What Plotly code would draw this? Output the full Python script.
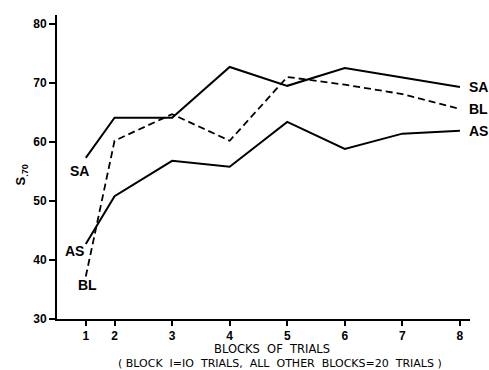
import plotly.graph_objects as go

blocks = [1, 2, 3, 4, 5, 6, 7, 8]
block_pos = [10, 20, 40, 60, 80, 100, 120, 140]  # x positions in trials (block 1 = 10 trials, others 20)
tick_labels = ["1", "2", "3", "4", "5", "6", "7", "8"]

SA = [57.3, 64.1, 64.1, 72.7, 69.5, 72.5, 70.9, 69.3]
BL = [37.2, 60.2, 64.7, 60.2, 71.0, 69.7, 68.1, 65.6]
AS = [42.7, 50.8, 56.8, 55.8, 63.4, 58.8, 61.4, 61.9]

y_ticks = [30, 40, 50, 60, 70, 80]

FONT = "Liberation Sans"

fig = go.Figure()
fig.add_trace(go.Scatter(x=block_pos, y=SA, mode="lines",
                         line=dict(color="black", width=2), name="SA"))
fig.add_trace(go.Scatter(x=block_pos, y=BL, mode="lines",
                         line=dict(color="black", width=1.8, dash="7px,4px"), name="BL"))
fig.add_trace(go.Scatter(x=block_pos, y=AS, mode="lines",
                         line=dict(color="black", width=2), name="AS"))

lab_font = dict(family=FONT, size=14, color="black", weight="bold")
# right-end labels
for name, ser in (("SA", SA), ("BL", BL), ("AS", AS)):
    fig.add_annotation(x=block_pos[-1], y=ser[-1], text=name,
                       showarrow=False, xanchor="left", yanchor="middle",
                       xshift=7, font=lab_font)
# left-start labels
for name, ser, dx, dy in (("SA", SA, -6, -13), ("AS", AS, -11, -7), ("BL", BL, 2, -8)):
    fig.add_annotation(x=block_pos[0], y=ser[0], text=name,
                       showarrow=False, xanchor="center", yanchor="middle",
                       xshift=dx, yshift=dy, font=lab_font)

fig.add_annotation(x=0.52, y=-0.100, xref="paper", yref="paper",
                   text="BLOCKS  OF  TRIALS", showarrow=False,
                   xanchor="center", yanchor="middle",
                   font=dict(family="DejaVu Sans", size=11.5, color="black"))
fig.add_annotation(x=0.54, y=-0.148, xref="paper", yref="paper",
                   text="( BLOCK  I=IO  TRIALS,  ALL  OTHER  BLOCKS=20  TRIALS )", showarrow=False,
                   xanchor="center", yanchor="middle",
                   font=dict(family="DejaVu Sans", size=11, color="black"))
fig.add_annotation(x=-0.085, y=0.475, xref="paper", yref="paper",
                   text="S<sub>.70</sub>", showarrow=False, textangle=-90,
                   xanchor="center", yanchor="middle",
                   font=dict(family=FONT, size=13, color="black", weight="bold"))

fig.update_xaxes(range=[0, 143.5], tickmode="array", tickvals=block_pos, ticktext=tick_labels,
                 ticks="outside", ticklen=5, tickwidth=1.5, tickcolor="black",
                 showline=True, linecolor="black", linewidth=2,
                 showgrid=False, zeroline=False,
                 tickfont=dict(family=FONT, size=12, color="black", weight="bold"))
fig.update_yaxes(range=[30, 81.5], tickmode="array", tickvals=y_ticks,
                 ticks="outside", ticklen=6, tickwidth=1.5, tickcolor="black",
                 showline=True, linecolor="black", linewidth=2,
                 showgrid=False, zeroline=False,
                 tickfont=dict(family=FONT, size=12, color="black", weight="bold"))

fig.update_layout(width=489, height=370, showlegend=False,
                  margin=dict(l=57, r=19, t=15, b=51),
                  plot_bgcolor="white", paper_bgcolor="white")

fig.write_html("out.html", config={"displayModeBar": False},
               post_script="document.body.style.margin='0';document.body.style.overflow='hidden';")
